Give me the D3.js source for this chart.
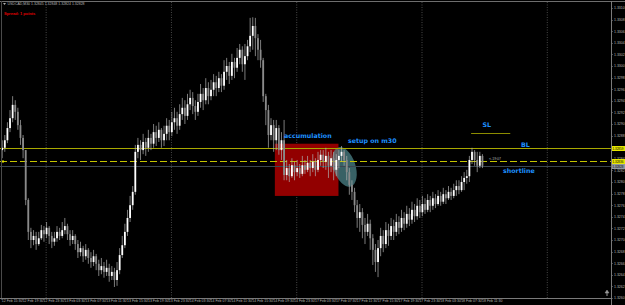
<!DOCTYPE html>
<html>
<head>
<meta charset="utf-8">
<title>USDCAD,M30</title>
<style>
html, body {
  margin: 0;
  padding: 0;
  background: #000;
}
svg {
  display: block;
  font-family: 'Liberation Sans', sans-serif;
}
.note {
  font-family: 'DejaVu Sans', sans-serif;
  font-weight: bold;
  font-size: 6.3px;
  fill: #1e90ff;
}
.small {
  font-size: 3.5px;
  fill: #b4b4b4;
}
</style>
<script src="https://d3js.org/d3.v7.min.js"></script>
</head>
<body>
<svg width="625" height="305"></svg>
<script>

var symbol = "USDCAD,M30";

// 30 minute bars, 12 Feb 15:30 .. 18 Feb 11:30
var opens = [1.32855,1.32859,1.32872,1.32893,1.32910,1.32933,1.32921,1.32898,1.32876,1.32855,
1.32769,1.32714,1.32700,1.32707,1.32693,1.32703,1.32717,1.32710,1.32721,1.32707,
1.32697,1.32703,1.32714,1.32707,1.32717,1.32724,1.32710,1.32700,1.32707,1.32693,
1.32679,1.32686,1.32672,1.32683,1.32669,1.32662,1.32672,1.32659,1.32648,1.32655,
1.32645,1.32652,1.32638,1.32645,1.32631,1.32648,1.32674,1.32691,1.32714,1.32738,
1.32760,1.32783,1.32852,1.32864,1.32855,1.32869,1.32859,1.32876,1.32866,1.32886,
1.32876,1.32890,1.32872,1.32883,1.32897,1.32886,1.32903,1.32910,1.32897,1.32917,
1.32928,1.32914,1.32934,1.32945,1.32931,1.32921,1.32938,1.32952,1.32941,1.32962,
1.32948,1.32959,1.32972,1.32962,1.32979,1.32966,1.32990,1.33000,1.32983,1.33007,
1.32997,1.33014,1.33028,1.33003,1.33017,1.33034,1.33052,1.33069,1.33048,1.33028,
1.33010,1.32948,1.32924,1.32881,1.32898,1.32872,1.32893,1.32855,1.32872,1.32812,
1.32824,1.32810,1.32829,1.32817,1.32824,1.32814,1.32829,1.32821,1.32833,1.32824,
1.32835,1.32821,1.32838,1.32847,1.32835,1.32845,1.32828,1.32841,1.32821,1.32838,
1.32845,1.32852,1.32838,1.32817,1.32795,1.32783,1.32760,1.32738,1.32748,1.32726,
1.32714,1.32728,1.32703,1.32683,1.32662,1.32686,1.32707,1.32693,1.32717,1.32707,
1.32724,1.32714,1.32731,1.32721,1.32738,1.32728,1.32745,1.32735,1.32752,1.32741,
1.32759,1.32748,1.32762,1.32752,1.32769,1.32759,1.32772,1.32762,1.32776,1.32766,
1.32779,1.32772,1.32783,1.32776,1.32786,1.32793,1.32786,1.32800,1.32807,1.32810,
1.32838,1.32852,1.32838,1.32828,1.32845];

var highs = [1.32872,1.32881,1.32903,1.32924,1.32948,1.32941,1.32928,1.32907,1.32881,1.32855,
1.32772,1.32721,1.32717,1.32714,1.32714,1.32726,1.32724,1.32731,1.32724,1.32714,
1.32714,1.32724,1.32721,1.32731,1.32738,1.32728,1.32717,1.32717,1.32710,1.32700,
1.32697,1.32690,1.32693,1.32686,1.32679,1.32683,1.32676,1.32666,1.32669,1.32662,
1.32666,1.32659,1.32655,1.32652,1.32662,1.32686,1.32707,1.32728,1.32752,1.32776,
1.32793,1.32864,1.32876,1.32872,1.32883,1.32876,1.32890,1.32883,1.32900,1.32897,
1.32903,1.32893,1.32897,1.32910,1.32907,1.32921,1.32928,1.32921,1.32934,1.32945,
1.32941,1.32952,1.32959,1.32955,1.32941,1.32952,1.32969,1.32962,1.32979,1.32972,
1.32976,1.32986,1.32983,1.32990,1.32986,1.33010,1.33014,1.33007,1.33021,1.33014,
1.33031,1.33038,1.33034,1.33038,1.33045,1.33083,1.33084,1.33083,1.33055,1.33045,
1.33014,1.32952,1.32933,1.32910,1.32907,1.32907,1.32898,1.32886,1.32907,1.32838,
1.32831,1.32841,1.32835,1.32838,1.32831,1.32845,1.32838,1.32845,1.32838,1.32848,
1.32841,1.32852,1.32855,1.32855,1.32859,1.32852,1.32855,1.32852,1.32848,1.32855,
1.32862,1.32855,1.32845,1.32824,1.32803,1.32790,1.32769,1.32762,1.32755,1.32738,
1.32745,1.32735,1.32710,1.32693,1.32700,1.32721,1.32717,1.32731,1.32728,1.32738,
1.32735,1.32745,1.32741,1.32752,1.32748,1.32759,1.32755,1.32766,1.32762,1.32772,
1.32769,1.32776,1.32772,1.32779,1.32776,1.32783,1.32779,1.32786,1.32783,1.32790,
1.32786,1.32793,1.32790,1.32797,1.32803,1.32803,1.32810,1.32817,1.32821,1.32845,
1.32859,1.32855,1.32852,1.32852,1.32848];

var lows = [1.32841,1.32852,1.32867,1.32886,1.32903,1.32907,1.32890,1.32864,1.32841,1.32760,
1.32700,1.32686,1.32691,1.32683,1.32690,1.32700,1.32697,1.32703,1.32693,1.32686,
1.32690,1.32697,1.32700,1.32703,1.32710,1.32700,1.32690,1.32693,1.32683,1.32669,
1.32672,1.32662,1.32666,1.32659,1.32652,1.32655,1.32648,1.32638,1.32641,1.32635,
1.32638,1.32628,1.32631,1.32619,1.32621,1.32641,1.32669,1.32686,1.32707,1.32731,
1.32752,1.32778,1.32841,1.32838,1.32848,1.32845,1.32852,1.32855,1.32859,1.32862,
1.32869,1.32859,1.32862,1.32872,1.32872,1.32879,1.32890,1.32883,1.32890,1.32907,
1.32900,1.32907,1.32924,1.32917,1.32907,1.32914,1.32928,1.32924,1.32934,1.32934,
1.32941,1.32948,1.32948,1.32955,1.32955,1.32959,1.32976,1.32969,1.32976,1.32979,
1.32990,1.33003,1.32990,1.32976,1.33010,1.33024,1.33028,1.33017,1.33010,1.32997,
1.32938,1.32898,1.32859,1.32872,1.32852,1.32855,1.32847,1.32838,1.32803,1.32803,
1.32800,1.32807,1.32803,1.32810,1.32807,1.32810,1.32814,1.32817,1.32810,1.32817,
1.32810,1.32817,1.32828,1.32824,1.32821,1.32807,1.32817,1.32803,1.32810,1.32824,
1.32835,1.32828,1.32803,1.32778,1.32769,1.32748,1.32721,1.32714,1.32703,1.32693,
1.32707,1.32683,1.32657,1.32645,1.32636,1.32672,1.32679,1.32686,1.32690,1.32700,
1.32700,1.32707,1.32710,1.32714,1.32717,1.32721,1.32724,1.32728,1.32731,1.32735,
1.32738,1.32741,1.32745,1.32748,1.32748,1.32752,1.32755,1.32759,1.32759,1.32762,
1.32762,1.32769,1.32769,1.32772,1.32776,1.32779,1.32783,1.32786,1.32797,1.32800,
1.32831,1.32828,1.32817,1.32824,1.32824];

var closes = [1.32859,1.32872,1.32893,1.32910,1.32933,1.32921,1.32898,1.32876,1.32855,1.32769,
1.32714,1.32700,1.32707,1.32693,1.32703,1.32717,1.32710,1.32721,1.32707,1.32697,
1.32703,1.32714,1.32707,1.32717,1.32724,1.32710,1.32700,1.32707,1.32693,1.32679,
1.32686,1.32672,1.32683,1.32669,1.32662,1.32672,1.32659,1.32648,1.32655,1.32645,
1.32652,1.32638,1.32645,1.32631,1.32648,1.32674,1.32691,1.32714,1.32738,1.32760,
1.32783,1.32852,1.32864,1.32855,1.32869,1.32859,1.32876,1.32866,1.32886,1.32876,
1.32890,1.32872,1.32883,1.32897,1.32886,1.32903,1.32910,1.32897,1.32917,1.32928,
1.32914,1.32934,1.32945,1.32931,1.32921,1.32938,1.32952,1.32941,1.32962,1.32948,
1.32959,1.32972,1.32962,1.32979,1.32966,1.32990,1.33000,1.32983,1.33007,1.32997,
1.33014,1.33028,1.33003,1.33017,1.33034,1.33052,1.33069,1.33048,1.33028,1.33010,
1.32948,1.32924,1.32881,1.32898,1.32872,1.32893,1.32855,1.32872,1.32812,1.32824,
1.32810,1.32829,1.32817,1.32824,1.32814,1.32829,1.32821,1.32833,1.32824,1.32835,
1.32821,1.32838,1.32847,1.32835,1.32845,1.32828,1.32841,1.32821,1.32838,1.32845,
1.32852,1.32838,1.32817,1.32795,1.32783,1.32760,1.32738,1.32748,1.32726,1.32714,
1.32728,1.32703,1.32683,1.32662,1.32686,1.32707,1.32693,1.32717,1.32707,1.32724,
1.32714,1.32731,1.32721,1.32738,1.32728,1.32745,1.32735,1.32752,1.32741,1.32759,
1.32748,1.32762,1.32752,1.32769,1.32759,1.32772,1.32762,1.32776,1.32766,1.32779,
1.32772,1.32783,1.32776,1.32786,1.32793,1.32786,1.32800,1.32807,1.32810,1.32838,
1.32852,1.32838,1.32828,1.32845,1.32828];

// time axis labels, one every 8 bars
var timeLabels = ["12 Feb 15:30","12 Feb 19:30","12 Feb 23:30","13 Feb 03:30","13 Feb 07:30","13 Feb 11:30",
"13 Feb 15:30","13 Feb 19:30","13 Feb 23:30","14 Feb 03:30","14 Feb 07:30","14 Feb 11:30",
"14 Feb 15:30","14 Feb 19:30","14 Feb 23:30","17 Feb 03:30","17 Feb 07:30","17 Feb 11:30",
"17 Feb 15:30","17 Feb 19:30","17 Feb 23:30","18 Feb 03:30","18 Feb 07:30","18 Feb 11:30"];
var labelEvery = 8;
// day separators (bar index of 00:00)
var daySeparators = [17, 65, 113, 161, 209];

// price axis
var priceTicks = d3.range(0, 26).map(function(k) { return +(1.3310 - k * 0.0002).toFixed(4); });

// objects drawn on the chart
var levelBL = 1.32859;      // solid yellow
var levelShort = 1.32836;   // dashed yellow
var levelSL = 1.32884;      // short SL segment
var slBars = [180, 195];
var accumBox = {bar0: 105, bar1: 129, top: 1.32866, bottom: 1.32776};
var setupEllipse = {bar: 131.5, price: 1.32826, rx: 11, ry: 20.5, angle: -18};
var countdown = "<-19:07";

var svg = d3.select("svg"),
    width = +svg.attr("width"),
    height = +svg.attr("height");

var plotRight = 611, plotBottom = 298;

var x = d3.scaleLinear().domain([0, 209]).range([1.3, 1.3 + 209 * 2.61]);
var y = d3.scaleLinear().domain([1.3260, 1.3310]).range([298, 8]);

svg.append("rect").attr("width", width).attr("height", height).attr("fill", "#000");

// day separators
svg.selectAll(".sep")
  .data(daySeparators)
  .enter().append("line")
    .attr("x1", function(d) { return x(d) + 0.5; })
    .attr("x2", function(d) { return x(d) + 0.5; })
    .attr("y1", 2).attr("y2", plotBottom)
    .attr("stroke", "#5a5a5a")
    .attr("stroke-width", 0.8)
    .attr("stroke-dasharray", "1,1.5");

// accumulation box
svg.append("rect")
    .attr("x", x(accumBox.bar0) - 0.5)
    .attr("y", y(accumBox.top))
    .attr("width", x(accumBox.bar1) - x(accumBox.bar0) + 1)
    .attr("height", y(accumBox.bottom) - y(accumBox.top))
    .attr("fill", "#920000");

// setup ellipse
svg.append("ellipse")
    .attr("cx", 0).attr("cy", 0)
    .attr("rx", setupEllipse.rx).attr("ry", setupEllipse.ry)
    .attr("transform", "translate(" + x(setupEllipse.bar) + "," + y(setupEllipse.price) + ") rotate(" + setupEllipse.angle + ")")
    .attr("fill", "#4d868c")
    .attr("fill-opacity", 0.72);

// horizontal levels
svg.append("line")
    .attr("x1", 0).attr("x2", plotRight)
    .attr("y1", Math.round(y(levelBL)) + 0.5).attr("y2", Math.round(y(levelBL)) + 0.5)
    .attr("stroke", "#a8a800").attr("stroke-width", 1);

svg.append("line")
    .attr("x1", 0).attr("x2", plotRight)
    .attr("y1", Math.round(y(levelShort)) + 0.5).attr("y2", Math.round(y(levelShort)) + 0.5)
    .attr("stroke", "#c4c400").attr("stroke-width", 1)
    .attr("stroke-dasharray", "7,3");

var bid = closes[closes.length - 1];
svg.append("line")
    .attr("x1", 0).attr("x2", plotRight)
    .attr("y1", Math.round(y(bid)) + 0.5).attr("y2", Math.round(y(bid)) + 0.5)
    .attr("stroke", "#3b4651").attr("stroke-width", 1);

svg.append("line")
    .attr("x1", x(slBars[0])).attr("x2", x(slBars[1]))
    .attr("y1", Math.round(y(levelSL)) + 0.5).attr("y2", Math.round(y(levelSL)) + 0.5)
    .attr("stroke", "#8c8c00").attr("stroke-width", 1);

svg.append("rect")
    .attr("x", 1).attr("y", Math.round(y(levelShort)) - 0.5)
    .attr("width", 3).attr("height", 2)
    .attr("fill", "#e6e600");

// candles
var bars = closes.map(function(c, i) {
  return {i: i, o: opens[i], h: highs[i], l: lows[i], c: c};
});

var candle = svg.selectAll(".candle")
  .data(bars)
  .enter().append("g")
    .attr("class", "candle");

candle.append("line")
    .attr("x1", function(d) { return x(d.i) + 0.9; })
    .attr("x2", function(d) { return x(d.i) + 0.9; })
    .attr("y1", function(d) { return y(d.h); })
    .attr("y2", function(d) { return y(d.l); })
    .attr("stroke", "#b0b0b0")
    .attr("stroke-width", 0.7);

candle.append("rect")
    .attr("x", function(d) { return x(d.i); })
    .attr("width", 1.8)
    .attr("y", function(d) { return y(Math.max(d.o, d.c)); })
    .attr("height", function(d) { return Math.max(0.7, Math.abs(y(d.o) - y(d.c))); })
    .attr("fill", function(d) { return d.c >= d.o ? "#ffffff" : "#8a8a8a"; });

// frame
svg.append("line").attr("x1", 0).attr("x2", width).attr("y1", 1.5).attr("y2", 1.5)
    .attr("stroke", "#6e6e6e").attr("stroke-width", 1);
svg.append("line").attr("x1", 1.5).attr("x2", 1.5).attr("y1", 1).attr("y2", plotBottom)
    .attr("stroke", "#4a4a4a").attr("stroke-width", 1);
svg.append("line").attr("x1", plotRight + 0.5).attr("x2", plotRight + 0.5).attr("y1", 1).attr("y2", plotBottom + 7)
    .attr("stroke", "#7a7a7a").attr("stroke-width", 1);
svg.append("line").attr("x1", 0).attr("x2", plotRight + 1).attr("y1", plotBottom + 0.5).attr("y2", plotBottom + 0.5)
    .attr("stroke", "#7a7a7a").attr("stroke-width", 1);

// price axis
var yAxis = svg.append("g").attr("class", "small");
yAxis.selectAll("line")
  .data(priceTicks)
  .enter().append("line")
    .attr("x1", plotRight).attr("x2", plotRight + 2)
    .attr("y1", function(d) { return Math.round(y(d)) + 0.5; })
    .attr("y2", function(d) { return Math.round(y(d)) + 0.5; })
    .attr("stroke", "#7a7a7a").attr("stroke-width", 0.6);
yAxis.selectAll("text")
  .data(priceTicks)
  .enter().append("text")
    .attr("x", plotRight + 3)
    .attr("y", function(d) { return y(d) + 1.3; })
    .text(function(d) { return d.toFixed(4); });

// highlighted price labels
var marks = [
  {p: levelBL, fill: "#e6e600"},
  {p: levelShort, fill: "#e6e600"},
  {p: bid, fill: "#8f98a0"}
];
var markG = svg.selectAll(".mark")
  .data(marks)
  .enter().append("g");
markG.append("rect")
    .attr("x", plotRight + 1)
    .attr("y", function(d) { return Math.round(y(d.p)) - 2; })
    .attr("width", width - plotRight - 1)
    .attr("height", 5)
    .attr("fill", function(d) { return d.fill; });
markG.append("text")
    .attr("x", plotRight + 1.5)
    .attr("y", function(d) { return Math.round(y(d.p)) + 1.6; })
    .attr("font-size", "3px")
    .attr("fill", "#000")
    .text(function(d) { return d.p.toFixed(5); });

// time axis
var xAxis = svg.append("g").attr("class", "small");
xAxis.selectAll("line")
  .data(timeLabels)
  .enter().append("line")
    .attr("x1", function(d, k) { return x(k * labelEvery) + 0.5; })
    .attr("x2", function(d, k) { return x(k * labelEvery) + 0.5; })
    .attr("y1", plotBottom).attr("y2", plotBottom + 2)
    .attr("stroke", "#7a7a7a").attr("stroke-width", 0.6);
xAxis.selectAll("text")
  .data(timeLabels)
  .enter().append("text")
    .attr("x", function(d, k) { return x(k * labelEvery) + 0.5; })
    .attr("y", 302.3)
    .text(function(d) { return d; });

// header
svg.append("path")
    .attr("d", "M3,3 L6,3 L4.5,5 Z")
    .attr("fill", "#aaa");
svg.append("text")
    .attr("class", "small")
    .attr("x", 7.5).attr("y", 5.3)
    .text(symbol + "  " + opens[opens.length - 1].toFixed(5) + " " + highs[highs.length - 1].toFixed(5) + " " +
          lows[lows.length - 1].toFixed(5) + " " + closes[closes.length - 1].toFixed(5));
svg.append("text")
    .attr("x", 4).attr("y", 15)
    .attr("font-size", "4px")
    .attr("font-weight", "bold")
    .attr("fill", "#e00000")
    .text("Spread: 1 points");

// annotations
svg.append("text").attr("class", "note").attr("x", 284).attr("y", 138).text("accumulation");
svg.append("text").attr("class", "note").attr("x", 348).attr("y", 143).text("setup on m30");
svg.append("text").attr("class", "note").attr("x", 482.5).attr("y", 127).text("SL");
svg.append("text").attr("class", "note").attr("x", 521).attr("y", 147).text("BL");
svg.append("text").attr("class", "note").attr("x", 503).attr("y", 172.5).text("shortline");
svg.append("text").attr("class", "small").attr("x", 489).attr("y", 159.5)
    .attr("fill", "#d8d8d8").text(countdown);

// chart shift marker
svg.append("path")
    .attr("d", "M607,290 L609,293 L605,293 Z M606.5,293 L606.5,296 M607.5,293 L607.5,296")
    .attr("fill", "#999").attr("stroke", "#999").attr("stroke-width", 0.5);

</script>
</body>
</html>
